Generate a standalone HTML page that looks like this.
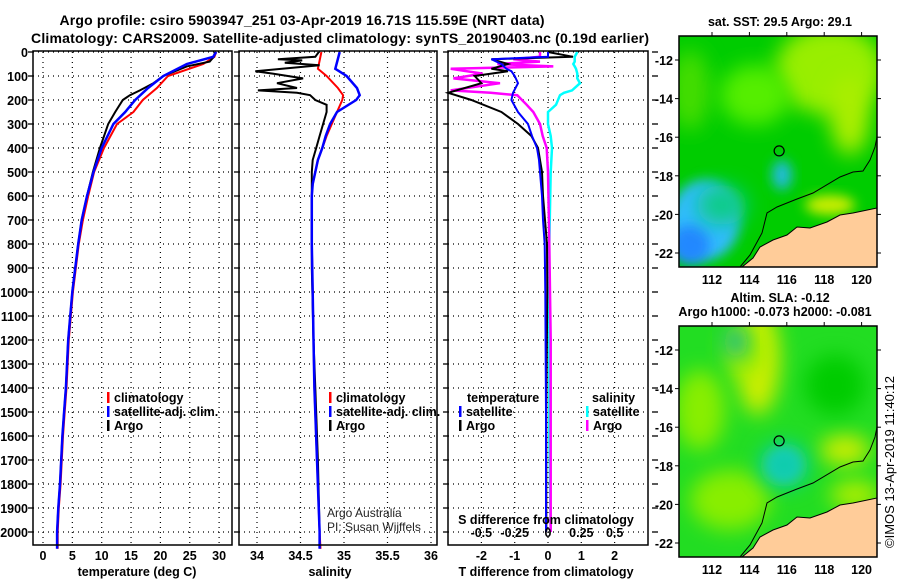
<!DOCTYPE html>
<html><head><meta charset="utf-8">
<style>
html,body{margin:0;padding:0;background:#fff;}
svg{display:block;font-family:"Liberation Sans",Arial,sans-serif;}
.b{font-weight:bold;font-size:12.5px;}
.t{font-weight:bold;font-size:14px;}
</style></head>
<body>
<svg id="fig" width="900" height="580" viewBox="0 0 900 580" xmlns="http://www.w3.org/2000/svg">
<defs>
<filter id="blur6" x="-50%" y="-50%" width="200%" height="200%"><feGaussianBlur stdDeviation="6"/></filter>
<filter id="blur10" x="-50%" y="-50%" width="200%" height="200%"><feGaussianBlur stdDeviation="10"/></filter>
<clipPath id="clipTop"><rect x="679" y="36" width="198" height="231"/></clipPath>
<clipPath id="clipBot"><rect x="679" y="326" width="198" height="231"/></clipPath>
</defs>
<text class="t" x="302" y="25" text-anchor="middle" textLength="485">Argo profile: csiro 5903947_251 03-Apr-2019 16.71S 115.59E (NRT data)</text>
<text class="t" x="340" y="43" text-anchor="middle" textLength="618">Climatology: CARS2009. Satellite-adjusted climatology: synTS_20190403.nc (0.19d earlier)</text>
<g id="p1"></g>
<g id="p2"></g>
<g id="p3"></g>
<g id="maps"></g>
<text x="894" y="462" font-size="13" text-anchor="middle" transform="rotate(-90 894 462)" fill="#000">©IMOS 13-Apr-2019 11:40:12</text>
</svg>
<script>
// ---- data ----
const depthTArgo = [0,20,40,60,100,130,160,180,200,250,300,400,500,600,700,800,1000,1200,1400,1500,1600,1700,1800,1900,2000,2060];
const tempArgo   = [29.3,29.1,28.4,24.5,20.5,18.8,16.5,14.8,13.6,12.3,11.1,9.7,8.5,7.5,6.6,6.0,5.0,4.3,3.9,3.6,3.3,3.1,2.9,2.6,2.4,2.4];
const depthTClim = [0,20,50,100,150,200,250,300,400,500,600,700,800,1000,1200,1400,1500,1600,1700,1800,1900,2000,2070];
const tempClim   = [29.5,29.2,27.3,21.3,19.4,17.0,15.4,12.6,10.4,8.7,7.7,6.8,6.1,5.1,4.4,4.0,3.7,3.4,3.2,3.0,2.7,2.5,2.5];
const tempSat    = [29.5,29.0,24.5,20.5,17.9,15.7,14.0,12.0,10.0,8.6,7.5,6.6,6.0,5.0,4.3,3.9,3.6,3.3,3.1,2.9,2.6,2.4,2.4];
const depthSClim = [0,70,100,150,180,200,250,300,350,400,450,500,550,600,800,1000,1200,1400,1700,2000,2070];
const salClim    = [34.74,34.70,34.80,34.93,34.99,34.98,34.92,34.86,34.80,34.75,34.70,34.67,34.64,34.63,34.63,34.64,34.65,34.66,34.69,34.72,34.73];
const salSat     = [34.95,34.90,35.03,35.15,35.18,35.14,34.92,34.84,34.79,34.75,34.70,34.67,34.64,34.63,34.63,34.64,34.65,34.66,34.69,34.72,34.72];
const depthSArgo = [0,20,30,35,45,55,80,90,110,130,150,160,170,180,200,220,250,300,350,400,450,500,700,900,1200,1400,1700,2000];
const salArgo    = [34.71,34.67,34.24,34.52,34.32,34.72,33.98,34.18,34.53,34.23,34.46,34.01,34.46,34.61,34.67,34.80,34.80,34.76,34.72,34.68,34.64,34.63,34.63,34.63,34.65,34.67,34.70,34.72];
const depthD = [0,20,30,50,70,80,100,130,170,200,250,300,350,400,450,500,600,700,800,1000,1500,2000];
const dTArgo = [0,0.75,-1.7,-1.2,-1.7,-1.2,-2.2,-2.0,-3.0,-2.3,-1.4,-0.9,-0.5,-0.3,-0.24,-0.18,-0.15,-0.09,-0.03,-0.02,-0.05,-0.05];
const dTSat  = [0,0,-1.7,-1.4,-1.25,-1.1,-1.0,-0.9,-1.05,-1.1,-0.9,-0.6,-0.48,-0.33,-0.27,-0.24,-0.18,-0.15,-0.1,-0.08,-0.06,-0.06];
const depthDS = [0,20,30,40,50,60,70,90,110,130,160,170,180,220,250,300,350,400,500,800,1200,1600,2000];
const dSArgo = [-0.06,-0.06,-0.26,-0.06,-0.38,0.04,-0.73,-0.49,-0.71,-0.36,-0.73,-0.43,-0.23,-0.16,-0.11,-0.06,-0.04,-0.01,0.0,0.01,0.02,0.02,0.02];
const dSSat  = [0.22,0.2,0.2,0.2,0.19,0.2,0.21,0.22,0.22,0.24,0.18,0.12,0.09,0.06,0.0,0.0,0.02,0.03,0.02,0.01,0.01,0.01,0.02];
const depthTicks = [0,100,200,300,400,500,600,700,800,900,1000,1100,1200,1300,1400,1500,1600,1700,1800,1900,2000];
const tTicks = [0,5,10,15,20,25,30];
const sTicks = [34,34.5,35,35.5,36];
const dTTicks = [-2,-1,0,1,2];
const dSTicks = [-0.5,-0.25,0,0.25,0.5];
const lonTicks = [112,114,116,118,120];
const latTicks = [-12,-14,-16,-18,-20,-22];

const NS = 'http://www.w3.org/2000/svg';
function el(tag, attrs, parent, txt){
  const e = document.createElementNS(NS, tag);
  for (const k in attrs) e.setAttribute(k, attrs[k]);
  if (txt !== undefined) e.textContent = txt;
  parent.appendChild(e);
  return e;
}
const yD = d => 52 + d * 0.24;
const TOP = 52, BOT = 545;

function frame(g, x0, x1){
  const r = el('rect', {x:x0, y:TOP-1, width:x1-x0, height:BOT-TOP+1, fill:'none', stroke:'#000', 'stroke-width':1.5}, g);
  
  
}
function hgrid(g, x0, x1){
  depthTicks.forEach(d => {
    const l = el('line', {x1:x0, x2:x1, y1:yD(d), y2:yD(d), stroke:'#000', 'stroke-width':1.2, 'stroke-dasharray':'1,4'}, g);
    
    
    el('line', {x1:x0-5, x2:x0, y1:yD(d), y2:yD(d), stroke:'#000', 'stroke-width':1.3}, g);
  });
}
function vgrid(g, ticks, fx){
  ticks.forEach(v => {
    const l = el('line', {x1:fx(v), x2:fx(v), y1:TOP, y2:BOT, stroke:'#000', 'stroke-width':1.2, 'stroke-dasharray':'1,4'}, g);
    
    
  });
}
function line(g, depths, vals, fx, color, w, name){
  const pts = depths.map((d,i) => fx(vals[i]).toFixed(1) + ',' + yD(d).toFixed(1)).join(' ');
  const p = el('polyline', {points:pts, fill:'none', stroke:color, 'stroke-width':w, 'stroke-linejoin':'miter'}, g);
  
  
}
function xlabels(g, ticks, fx, y, fmt){
  ticks.forEach(v => {
    const t = el('text', {x:fx(v), y:y, 'text-anchor':'middle', class:'b'}, g, fmt ? fmt(v) : String(v));
    
    
  });
}
function legend(g, x, y, items){
  items.forEach((it,i) => {
    el('rect', {x:x, y:y + i*14 - 10, width:2.5, height:11, fill:it[1]}, g);
    const t = el('text', {x:x+7, y:y + i*14, class:'b'}, g, it[0]);
    
    
  });
}

// ---- panel 1 temperature ----
const p1 = document.getElementById('p1');
const xT = v => 43 + v * 5.87;
vgrid(p1, tTicks, xT); hgrid(p1, 33, 232);
depthTicks.forEach(d => {
  const t = el('text', {x:28, y:yD(d)+5, 'text-anchor':'end', class:'b'}, p1, String(d));
  
  
});
line(p1, depthTClim, tempClim, xT, '#f00', 2, 'temperature-climatology-line');
line(p1, depthTArgo, tempArgo, xT, '#000', 2, 'temperature-argo-line');
line(p1, depthTClim, tempSat, xT, '#00f', 2.5, 'temperature-satellite-line');
frame(p1, 33, 232);
xlabels(p1, tTicks, xT, 560);
let at = el('text', {x:137, y:576, 'text-anchor':'middle', class:'b'}, p1, 'temperature (deg C)');
 
legend(p1, 107, 402, [['climatology','#f00'],['satellite-adj. clim.','#00f'],['Argo','#000']]);

// ---- panel 2 salinity ----
const p2 = document.getElementById('p2');
const xS = v => 257 + (v - 34) * 87;
vgrid(p2, sTicks, xS); hgrid(p2, 239, 437);
line(p2, depthSClim, salClim, xS, '#f00', 2, 'salinity-climatology-line');
line(p2, depthSArgo, salArgo, xS, '#000', 2, 'salinity-argo-line');
line(p2, depthSClim, salSat, xS, '#00f', 2.5, 'salinity-satellite-line');
frame(p2, 239, 437);
xlabels(p2, sTicks, xS, 560);
at = el('text', {x:330, y:576, 'text-anchor':'middle', class:'b'}, p2, 'salinity');
 
legend(p2, 329, 402, [['climatology','#f00'],['satellite-adj. clim.','#00f'],['Argo','#000']]);
el('text', {x:327, y:517, 'font-size':12, fill:'#222'}, p2, 'Argo Australia');
el('text', {x:327, y:531, 'font-size':12, fill:'#222'}, p2, 'PI: Susan Wijffels');

// ---- panel 3 differences ----
const p3 = document.getElementById('p3');
const xDT = v => 548 + v * 33.3;
const xDS = v => 548 + v * 133.3;
vgrid(p3, dTTicks, xDT); hgrid(p3, 448, 648);
depthTicks.forEach(d => el('line', {x1:652, x2:658, y1:yD(d), y2:yD(d), stroke:'#000', 'stroke-width':1.3}, p3));
line(p3, depthDS, dSSat, xDS, '#0ff', 2.5, 'salinity-diff-satellite-line');
line(p3, depthDS, dSArgo, xDS, '#f0f', 2.5, 'salinity-diff-argo-line');
line(p3, depthD, dTArgo, xDT, '#000', 2, 'temperature-diff-argo-line');
line(p3, depthD, dTSat, xDT, '#00f', 2, 'temperature-diff-satellite-line');
frame(p3, 448, 648);
xlabels(p3, dTTicks, xDT, 560);
xlabels(p3, dSTicks, xDS, 537, v => v === 0 ? '0' : String(v).replace('0.', '0.'));
at = el('text', {x:546, y:576, 'text-anchor':'middle', class:'b'}, p3, 'T difference from climatology');
 
at = el('text', {x:546, y:524, 'text-anchor':'middle', class:'b'}, p3, 'S difference from climatology');
 
el('text', {x:467, y:402, class:'b'}, p3, 'temperature');
legend(p3, 459, 416, [['satellite','#00f'],['Argo','#000']]);
el('text', {x:592, y:402, class:'b'}, p3, 'salinity');
legend(p3, 586, 416, [['satellite','#0ff'],['Argo','#f0f']]);

// ---- maps ----
const maps = document.getElementById('maps');
const xLon = v => 712 + (v - 112) * 18.7;
function drawMap(off, clipId, blobs, baseColor, name, title, sub){
  const g = el('g', {}, maps);
  
  
  const yLat = v => 60 + off + (-12 - v) * 19.3;
  const inner = el('g', {'clip-path':'url(#'+clipId+')'}, g);
  el('rect', {x:679, y:36+off, width:198, height:231, fill:baseColor}, inner);
  blobs.forEach(b => el('ellipse', {cx:b[0], cy:b[1]+off, rx:b[2], ry:b[3], fill:b[4], filter:'url(#'+b[5]+')'}, inner));
  const land = [[742,267],[753,258],[760,247],[773,240],[787,235],[797,227],[810,228],[827,222],[840,215],[853,213],[877,208],[877,267]];
  const lp = el('polygon', {points: land.map(p => p[0]+','+(p[1]+off)).join(' '), fill:'#fc9', stroke:'#000', 'stroke-width':1}, inner);
  
  
  const bath = [[740,267],[750,255],[762,233],[767,213],[777,207],[797,199],[813,193],[840,177],[853,172],[863,171],[870,160],[875,147],[877,137]];
  el('polyline', {points: bath.map(p => p[0]+','+(p[1]+off)).join(' '), fill:'none', stroke:'#000', 'stroke-width':1}, inner);
  const c = el('circle', {cx:xLon(115.59), cy:yLat(-16.71), r:5, fill:'none', stroke:'#000', 'stroke-width':1.2}, g);
  
  
  el('rect', {x:679, y:36+off, width:198, height:231, fill:'none', stroke:'#000', 'stroke-width':1.5}, g);
  latTicks.forEach(v => {
    el('line', {x1:675, x2:679, y1:yLat(v), y2:yLat(v), stroke:'#000'}, g);
    el('line', {x1:877, x2:881, y1:yLat(v), y2:yLat(v), stroke:'#000'}, g);
    el('text', {x:673, y:yLat(v)+5, 'text-anchor':'end', class:'b'}, g, String(v));
  });
  lonTicks.forEach(v => {
    el('line', {x1:xLon(v), x2:xLon(v), y1:32+off, y2:36+off, stroke:'#000'}, g);
    el('text', {x:xLon(v), y:284+off, 'text-anchor':'middle', class:'b'}, g, String(v));
  });
  if (title) el('text', {x:780, y:off === 0 ? 26 : 302, 'text-anchor':'middle', class:'b'}, g, title);
  if (sub) el('text', {x:775, y:316, 'text-anchor':'middle', class:'b'}, g, sub);
}
drawMap(0, 'clipTop', [
  [830,70,55,45,'#9e0','blur10'],[690,90,20,40,'#4d0','blur10'],[755,95,35,30,'#5e0','blur10'],
  [850,115,20,40,'#ae0','blur10'],[705,220,35,40,'#3bf','blur6'],[690,245,20,20,'#28f','blur6'],
  [782,175,10,15,'#2bd','blur6'],[722,205,25,20,'#1c8','blur10'],[830,205,25,10,'#ce0','blur6']
], '#0c0', 'sst-map', 'sat. SST: 29.5 Argo: 29.1');
drawMap(290, 'clipBot', [
  [758,70,22,55,'#ce0','blur10'],[745,60,20,25,'#9e0','blur10'],[700,120,25,40,'#8e0','blur10'],
  [845,160,25,15,'#ce0','blur10'],[835,95,30,30,'#0c0','blur10'],[730,210,40,30,'#8e0','blur10'],
  [784,175,14,14,'#3cf','blur6'],[784,175,24,22,'#1ca','blur10'],[736,52,12,16,'#1b8','blur10'],
  [855,205,25,15,'#ae0','blur10']
], '#2d2', 'sla-map', 'Altim. SLA: -0.12', 'Argo h1000: -0.073 h2000: -0.081');
</script>
</body></html>
